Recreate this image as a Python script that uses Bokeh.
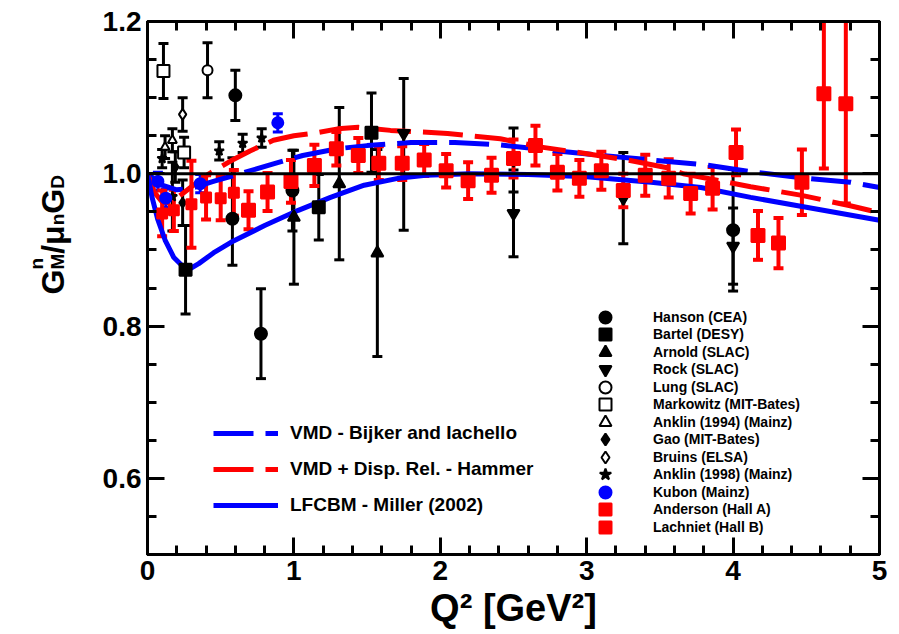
import numpy as np
from bokeh.plotting import figure
from bokeh.layouts import row, column
from bokeh.models import (ColumnDataSource, Whisker, TeeHead, Legend, LegendItem, Label,
                          LinearAxis, Range1d, FixedTicker, Span, NumeralTickFormatter,
                          CustomJSTickFormatter)
from bokeh.embed import file_html
from bokeh.resources import INLINE

# ---- model curves: Q^2 [GeV^2] and G_M^n / (mu_n G_D) ----
bij_q = [0, 0.1, 0.2, 0.3, 0.45, 0.63, 0.86, 1.06, 1.3, 1.5, 1.8, 2.1, 2.4, 2.75, 3.1, 3.45, 3.8, 4.15, 4.5, 4.8, 5.0]
bij_v = [1.0, 0.985, 0.979, 0.981, 0.99, 1.0, 1.013, 1.024, 1.033, 1.037, 1.041, 1.041, 1.038, 1.031, 1.024,
         1.018, 1.012, 1.002, 0.994, 0.989, 0.982]

ham_q = [0, 0.05, 0.1, 0.15, 0.2, 0.3, 0.42, 0.57, 0.7, 0.86, 1.0, 1.16, 1.3, 1.44, 1.66, 2.05, 2.2, 2.41, 2.69,
         2.98, 3.28, 3.55, 3.66, 4.12, 4.46, 4.8, 5.0]
ham_v = [1.0, 0.975, 0.963, 0.962, 0.968, 0.983, 1.0, 1.017, 1.03, 1.044, 1.05, 1.054, 1.059, 1.061, 1.057, 1.053,
         1.05, 1.046, 1.035, 1.027, 1.018, 1.008, 1.0, 0.983, 0.972, 0.958, 0.949]

lf_q = [0, 0.03, 0.07, 0.12, 0.18, 0.27, 0.35, 0.45, 0.57, 0.8, 1.03, 1.25, 1.48, 1.71, 1.9, 2.2, 2.6, 3.0, 3.44,
        3.78, 4.12, 4.5, 5.0]
lf_v = [1.0, 0.97, 0.94, 0.913, 0.89, 0.873, 0.882, 0.896, 0.91, 0.932, 0.952, 0.969, 0.985, 0.994, 0.998, 1.0,
        0.999, 0.996, 0.989, 0.982, 0.969, 0.956, 0.939]

# ---- measurements: Q^2, ratio, lower error, upper error ----
hanson_q = [0.58, 0.60, 0.775, 0.99, 4.0]
hanson_v = [0.941, 1.103, 0.79, 0.978, 0.926]
hanson_lo = [0.061, 0.033, 0.059, 0.053, 0.08]
hanson_hi = [0.08, 0.033, 0.059, 0.053, 0.08]

bartel_q = [0.26, 1.17, 1.53]
bartel_v = [0.874, 0.956, 1.054]
bartel_lo = [0.058, 0.043, 0.052]
bartel_hi = [0.058, 0.043, 0.052]

arnold_q = [1.0, 1.31, 1.57]
arnold_v = [0.943, 0.987, 0.896]
arnold_lo = [0.088, 0.10, 0.136]
arnold_hi = [0.088, 0.10, 0.136]

rock_q = [1.75, 2.5, 2.5, 3.25, 4.0]
rock_v = [1.053, 1.018, 0.948, 0.968, 0.905]
rock_lo = [0.127, 0.042, 0.057, 0.06, 0.05]
rock_hi = [0.072, 0.042, 0.057, 0.06, 0.05]

lung_q = [0.41]
lung_v = [1.136]
lung_lo = [0.036]
lung_hi = [0.036]

markowitz_q = [0.109, 0.25]
markowitz_v = [1.135, 1.028]
markowitz_lo = [0.036, 0.02]
markowitz_hi = [0.036, 0.02]

anklin94_q = [0.12, 0.17]
anklin94_v = [1.035, 1.044]
anklin94_lo = [0.015, 0.015]
anklin94_hi = [0.015, 0.015]

gao_q = [0.19, 0.24]
gao_v = [1.009, 0.962]
gao_lo = [0.02, 0.03]
gao_hi = [0.02, 0.03]

bruins_q = [0.24]
bruins_v = [1.078]
bruins_lo = [0.022]
bruins_hi = [0.022]

anklin98_q = [0.1, 0.17, 0.49, 0.65, 0.78]
anklin98_v = [1.02, 0.97, 1.03, 1.04, 1.047]
anklin98_lo = [0.012, 0.045, 0.012, 0.012, 0.012]
anklin98_hi = [0.012, 0.045, 0.012, 0.012, 0.012]

kubon_q = [0.071, 0.125, 0.36, 0.89]
kubon_v = [0.99, 0.968, 0.987, 1.067]
kubon_lo = [0.012, 0.012, 0.012, 0.012]
kubon_hi = [0.012, 0.012, 0.012, 0.012]

anderson_q = [0.10, 0.18, 0.30, 0.40, 0.50, 0.59]
anderson_v = [0.948, 0.952, 0.96, 0.969, 0.968, 0.975]
anderson_lo = [0.03, 0.027, 0.057, 0.029, 0.029, 0.03]
anderson_hi = [0.03, 0.027, 0.057, 0.029, 0.029, 0.03]

lachniet_q = [0.69, 0.82, 0.98, 1.14, 1.29, 1.44, 1.58, 1.74, 1.89, 2.04, 2.19, 2.35, 2.50, 2.65, 2.80, 2.95,
              3.10, 3.25, 3.40, 3.56, 3.71, 3.86, 4.02, 4.17, 4.31, 4.47, 4.62, 4.77]
lachniet_v = [0.952, 0.976, 0.99, 1.011, 1.033, 1.024, 1.014, 1.014, 1.018, 1.004, 0.991, 0.998, 1.02, 1.037,
              1.002, 0.994, 1.004, 0.978, 0.998, 0.994, 0.974, 0.981, 1.028, 0.919, 0.909, 0.989, 1.105, 1.092]
lachniet_lo = [0.025, 0.025, 0.028, 0.027, 0.022, 0.023, 0.022, 0.022, 0.021, 0.022, 0.024, 0.023, 0.025, 0.026,
               0.024, 0.024, 0.025, 0.022, 0.027, 0.025, 0.026, 0.028, 0.03, 0.032, 0.033, 0.043, 0.098, 0.131]
lachniet_hi = lachniet_lo

FONT = "Liberation Sans"
TITLE = "Q² [GeV²]"

LEFT_W = 95      # strip holding the vertical axis title
TOP_H = 5        # strip holding the clipped top title
W, H = 899, 634


def blank_fig(w, h, xr, yr):
    f = figure(width=w, height=h, output_backend="svg", toolbar_location=None,
               x_range=xr, y_range=yr, x_axis_type=None, y_axis_type=None,
               min_border=0, outline_line_color=None,
               background_fill_color="white", border_fill_color="white")
    f.grid.visible = False
    return f


# ---- main panel ----
p = figure(width=W - LEFT_W, height=H - TOP_H, output_backend="svg", toolbar_location=None,
           x_range=Range1d(0, 5), y_range=Range1d(0.5, 1.2),
           min_border_left=147 - LEFT_W, min_border_right=20, min_border_top=21 - TOP_H,
           min_border_bottom=80, background_fill_color="white", border_fill_color="white")
p.grid.visible = False
p.outline_line_color = "black"
p.outline_line_width = 3


def style_axis(ax):
    ax.axis_line_width = 3
    ax.major_tick_line_width = 3
    ax.minor_tick_line_width = 3
    ax.major_tick_in = 17
    ax.major_tick_out = 0
    ax.minor_tick_in = 9
    ax.minor_tick_out = 0
    ax.major_label_text_font = FONT
    ax.major_label_text_font_style = "bold"
    ax.major_label_text_font_size = "28px"
    ax.major_label_text_color = "black"
    ax.major_label_standoff = 6


xt = FixedTicker(ticks=[0, 1, 2, 3, 4, 5], minor_ticks=[i * 0.2 for i in range(26)])
yt = FixedTicker(ticks=[0.6, 0.8, 1.0, 1.2], minor_ticks=[0.5 + i * 0.05 for i in range(15)])

p.xaxis.ticker = xt
p.yaxis.ticker = yt
style_axis(p.xaxis[0])
style_axis(p.yaxis[0])
p.yaxis.formatter = NumeralTickFormatter(format="0.0")
p.xaxis.axis_label = TITLE
p.xaxis.axis_label_text_font = FONT
p.xaxis.axis_label_text_font_style = "bold"
p.xaxis.axis_label_text_font_size = "38px"
p.xaxis.axis_label_text_color = "black"
p.xaxis.axis_label_standoff = 4

# mirrored tick marks on the top and right edges
blank = CustomJSTickFormatter(code="return ''")
for side, tk in (("above", xt), ("right", yt)):
    ax = LinearAxis(ticker=tk, formatter=blank)
    style_axis(ax)
    ax.major_label_standoff = 0
    p.add_layout(ax, side)

# unity reference line
p.add_layout(Span(location=1.0, dimension="width", line_color="black", line_width=3))

# model curves
r_bij = p.line(bij_q, bij_v, line_color="blue", line_width=5, line_dash="40 12")
r_ham = p.line(ham_q, ham_v, line_color="red", line_width=5, line_dash="40 12")
r_lf = p.line(lf_q, lf_v, line_color="blue", line_width=5)


def series(q, v, elo, ehi, color, marker, size, fill=None, lw=3, cap=10):
    src = ColumnDataSource(dict(q=q, v=v, lo=[a - b for a, b in zip(v, elo)],
                                hi=[a + b for a, b in zip(v, ehi)]))
    w = Whisker(source=src, base="q", lower="lo", upper="hi", dimension="height",
                line_color=color, line_width=lw,
                upper_head=TeeHead(size=cap, line_color=color, line_width=lw),
                lower_head=TeeHead(size=cap, line_color=color, line_width=lw))
    p.add_layout(w)
    r = p.scatter("q", "v", source=src, marker=marker, size=size,
                  fill_color=fill if fill is not None else color, line_color=color, line_width=2)
    return r


r_han = series(hanson_q, hanson_v, hanson_lo, hanson_hi, "black", "circle", 12)
r_bar = series(bartel_q, bartel_v, bartel_lo, bartel_hi, "black", "square", 12)
r_arn = series(arnold_q, arnold_v, arnold_lo, arnold_hi, "black", "triangle", 12)
r_roc = series(rock_q, rock_v, rock_lo, rock_hi, "black", "inverted_triangle", 12)
r_lun = series(lung_q, lung_v, lung_lo, lung_hi, "black", "circle", 10, fill="white")
r_mar = series(markowitz_q, markowitz_v, markowitz_lo, markowitz_hi, "black", "square", 12, fill="white")
r_a94 = series(anklin94_q, anklin94_v, anklin94_lo, anklin94_hi, "black", "triangle", 9, fill="white")
r_gao = series(gao_q, gao_v, gao_lo, gao_hi, "black", "diamond", 10)
r_bru = series(bruins_q, bruins_v, bruins_lo, bruins_hi, "black", "diamond", 11, fill="white")
r_a98 = series(anklin98_q, anklin98_v, anklin98_lo, anklin98_hi, "black", "star", 10)
r_kub = series(kubon_q, kubon_v, kubon_lo, kubon_hi, "blue", "circle", 11)
r_and = series(anderson_q, anderson_v, anderson_lo, anderson_hi, "red", "square", 10, lw=4)
r_lac = series(lachniet_q, lachniet_v, lachniet_lo, lachniet_hi, "red", "square", 13, lw=4)

# legend of the model curves
leg1 = Legend(items=[LegendItem(label="VMD - Bijker and Iachello", renderers=[r_bij]),
                     LegendItem(label="VMD + Disp. Rel. - Hammer", renderers=[r_ham]),
                     LegendItem(label="LFCBM - Miller (2002)", renderers=[r_lf])],
              location=(66, 38), orientation="vertical", glyph_width=65, glyph_height=20,
              label_height=20, spacing=14, label_standoff=12, padding=0, margin=0,
              border_line_alpha=0, background_fill_alpha=0, label_text_color="black",
              label_text_font=FONT, label_text_font_style="bold", label_text_font_size="19px")
p.add_layout(leg1)

# legend of the measurements, split in two interleaved stacks of rows
entries = [("Hanson (CEA)", r_han), ("Bartel (DESY)", r_bar), ("Arnold (SLAC)", r_arn),
           ("Rock (SLAC)", r_roc), ("Lung (SLAC)", r_lun), ("Markowitz (MIT-Bates)", r_mar),
           ("Anklin (1994) (Mainz)", r_a94), ("Gao (MIT-Bates)", r_gao), ("Bruins (ELSA)", r_bru),
           ("Anklin (1998) (Mainz)", r_a98), ("Kubon (Mainz)", r_kub), ("Anderson (Hall A)", r_and),
           ("Lachniet (Hall B)", r_lac)]
for start, loc_y in ((0, 12), (1, 30)):
    leg = Legend(items=[LegendItem(label=t, renderers=[r]) for t, r in entries[start::2]],
                 location=(443, loc_y), orientation="vertical", glyph_width=30, glyph_height=30,
                 label_height=17, spacing=5, label_standoff=33, padding=0, margin=0,
                 border_line_alpha=0, background_fill_alpha=0, label_text_color="black",
                 label_text_font=FONT, label_text_font_style="bold", label_text_font_size="14px")
    p.add_layout(leg)

# ---- top strip: the upper axis title, mostly above the page edge ----
top = blank_fig(W - LEFT_W, TOP_H, Range1d(0, W - LEFT_W), Range1d(TOP_H, 0))
top.add_layout(Label(x=513 - LEFT_W, y=4, text=TITLE, text_align="center", text_baseline="alphabetic",
                     text_font=FONT, text_font_style="bold", text_font_size="38px", text_color="black"))

# ---- left strip: vertical title G_M^n / mu_n G_D built from pieces ----
left = blank_fig(LEFT_W, H, Range1d(0, LEFT_W), Range1d(H, 0))
pieces = [
    ("G", 32, 0.0, 0),
    ("n", 19, 24.9, -16),
    ("M", 19, 24.9, 5),
    ("/", 32, 40.7, 0),
    ("μ", 32, 49.6, 0),
    ("n", 19, 69.2, 5),
    ("G", 32, 80.8, 0),
    ("D", 19, 105.7, 5),
]
for txt, size, along, shift in pieces:
    left.add_layout(Label(x=52 + shift, y=294 - along, text=txt, angle=np.pi / 2,
                          text_align="left", text_baseline="alphabetic",
                          text_font=FONT, text_font_style="bold", text_font_size=f"{size}px",
                          text_color="black"))

layout = row(left, column(top, p, spacing=0), spacing=0)
open("out.html", "w").write(file_html(layout, INLINE))
